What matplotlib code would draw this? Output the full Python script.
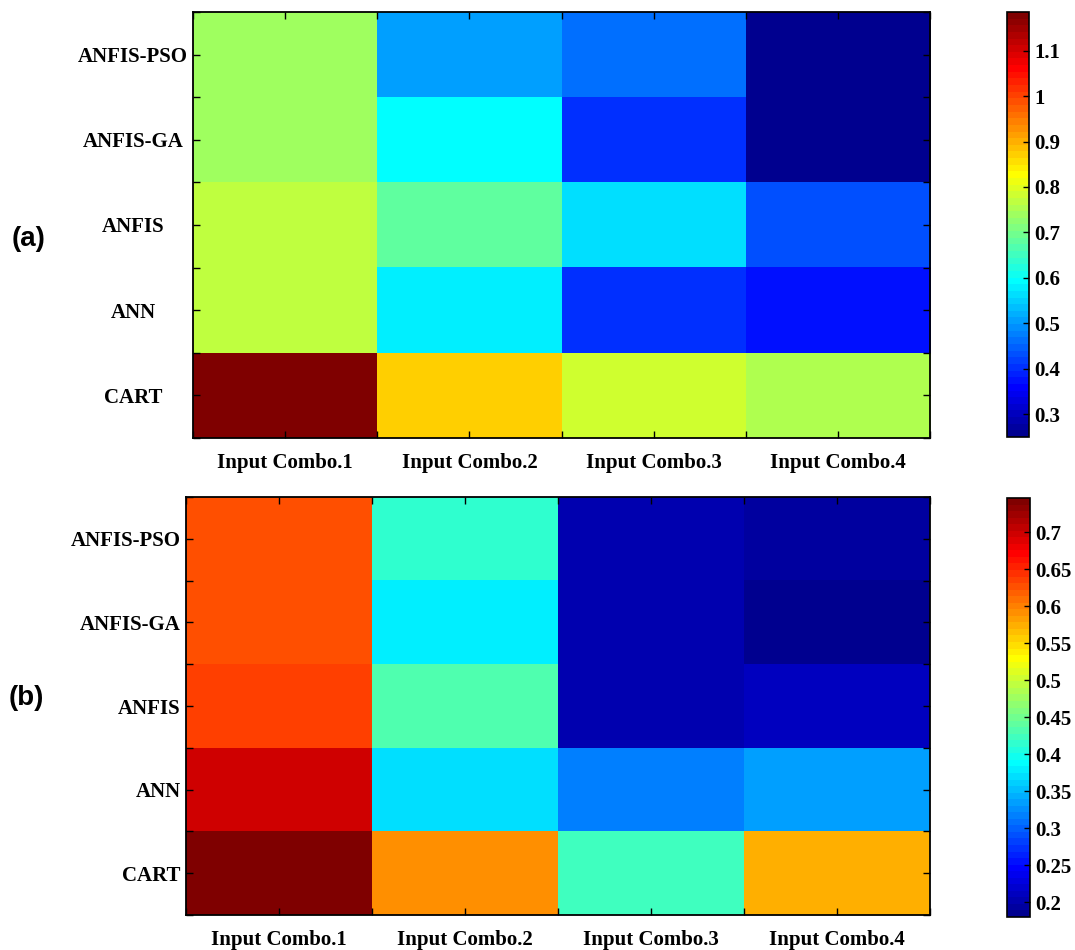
import numpy as np
import matplotlib
matplotlib.use("Agg")
import matplotlib.pyplot as plt
from matplotlib.colors import ListedColormap
from matplotlib.ticker import FixedLocator, FuncFormatter

models = ["ANFIS-PSO", "ANFIS-GA", "ANFIS", "ANN", "CART"]
combos = ["Input Combo.1", "Input Combo.2", "Input Combo.3", "Input Combo.4"]

# rows follow `models`, columns follow `combos`
vals_a = np.array([
    [0.739, 0.506, 0.462, 0.257],
    [0.739, 0.593, 0.403, 0.250],
    [0.769, 0.681, 0.564, 0.433],
    [0.769, 0.579, 0.403, 0.374],
    [1.185, 0.871, 0.783, 0.754],
])
vals_b = np.array([
    [0.627, 0.414, 0.202, 0.193],
    [0.627, 0.379, 0.202, 0.180],
    [0.635, 0.432, 0.202, 0.211],
    [0.697, 0.370, 0.317, 0.335],
    [0.746, 0.591, 0.423, 0.574],
])
cbar_ticks_a = [0.3, 0.4, 0.5, 0.6, 0.7, 0.8, 0.9, 1.0, 1.1]
cbar_ticks_b = [0.2, 0.25, 0.3, 0.35, 0.4, 0.45, 0.5, 0.55, 0.6, 0.65, 0.7]


def classic_jet(n=64):
    """Piecewise-linear 'jet' with n entries, built the same way as the
    classic MATLAB jet(n)."""
    m = int(np.ceil(n / 4))
    u = np.concatenate([np.arange(1, m + 1) / m, np.ones(m - 1),
                        np.arange(m, 0, -1) / m])
    g = int(np.ceil(m / 2)) - (1 if n % 4 == 1 else 0) + np.arange(1, len(u) + 1)
    r = g + m
    b = g - m
    J = np.zeros((n, 3))
    ok = r <= n
    J[r[ok] - 1, 0] = u[ok]
    ok = g <= n
    J[g[ok] - 1, 1] = u[ok]
    ok = b >= 1
    J[b[ok] - 1, 2] = u[ok]
    return ListedColormap(J, name="classic_jet")


W, H = 1075, 950
fig = plt.figure(figsize=(W / 100, H / 100), dpi=100)
cmap = classic_jet(64)

SERIF = "Liberation Serif"


def px_rect(x0, y0, x1, y1):
    return [x0 / W, 1 - y1 / H, (x1 - x0) / W, (y1 - y0) / H]


def fmt(v, _):
    return f"{v:.2f}".rstrip("0").rstrip(".")


def draw_panel(rect, cbar_rect, data, cticks, tag, tag_xy, ylab_mode):
    ax = fig.add_axes(px_rect(*rect))
    im = ax.imshow(data, cmap=cmap, aspect="auto", interpolation="nearest",
                   vmin=data.min(), vmax=data.max())
    nrow, ncol = data.shape
    ax.set_xticks(np.arange(ncol))
    ax.set_xticklabels(combos, fontfamily=SERIF, fontweight="bold", fontsize=15)
    ax.set_yticks(np.arange(nrow))
    ax.set_yticklabels(models, fontfamily=SERIF, fontweight="bold", fontsize=15)
    ax.xaxis.set_minor_locator(FixedLocator(np.arange(-0.5, ncol, 1.0)))
    ax.yaxis.set_minor_locator(FixedLocator(np.arange(-0.5, nrow, 1.0)))
    ax.tick_params(which="both", direction="in", length=5, width=1,
                   top=True, right=True, bottom=True, left=True)
    ax.tick_params(axis="x", which="major", pad=11)
    if ylab_mode == "center":
        ax.tick_params(axis="y", which="major", pad=43)
        for t in ax.get_yticklabels():
            t.set_horizontalalignment("center")
    else:
        ax.tick_params(axis="y", which="major", pad=4)
    for s in ax.spines.values():
        s.set_linewidth(1.3)

    cax = fig.add_axes(px_rect(*cbar_rect))
    cb = fig.colorbar(im, cax=cax)
    cb.set_ticks(cticks)
    cb.ax.yaxis.set_major_formatter(FuncFormatter(fmt))
    cb.ax.tick_params(direction="in", length=4, width=1, right=True, pad=4)
    for t in cb.ax.get_yticklabels():
        t.set_fontfamily(SERIF)
        t.set_fontweight("bold")
        t.set_fontsize(15)
    cb.outline.set_linewidth(1.2)

    fig.text(tag_xy[0] / W, 1 - tag_xy[1] / H, tag, fontfamily="Liberation Sans",
             fontweight="bold", fontsize=20, ha="left", va="center")


draw_panel((193, 12, 930, 438), (1007, 12, 1029, 437), vals_a, cbar_ticks_a,
           "(a)", (12, 239), "center")
draw_panel((186, 497, 930, 915), (1007, 498, 1030, 917), vals_b, cbar_ticks_b,
           "(b)", (9, 698), "right")

fig.savefig("out.png", dpi=100)
